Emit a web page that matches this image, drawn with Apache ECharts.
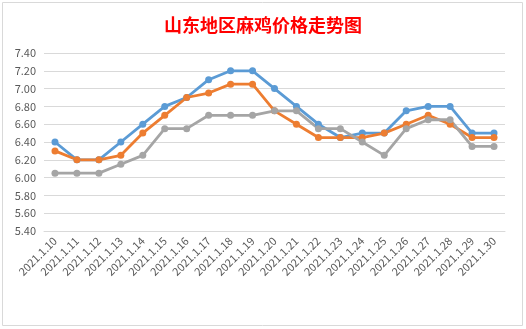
<!DOCTYPE html>
<html><head><meta charset="utf-8">
<script src="https://cdn.jsdelivr.net/npm/echarts@6/dist/echarts.min.js"></script>
<style>html,body{margin:0;padding:0;background:#fff}#c{width:526px;height:329px}</style>
</head><body><div id="c"></div>
<script>
const categories = ["2021.1.10","2021.1.11","2021.1.12","2021.1.13","2021.1.14","2021.1.15","2021.1.16","2021.1.17","2021.1.18","2021.1.19","2021.1.20","2021.1.21","2021.1.22","2021.1.23","2021.1.24","2021.1.25","2021.1.26","2021.1.27","2021.1.28","2021.1.29","2021.1.30"];
const ludong = [6.40,6.20,6.20,6.40,6.60,6.80,6.90,7.10,7.20,7.20,7.00,6.80,6.60,6.45,6.50,6.50,6.75,6.80,6.80,6.50,6.50];
const lunan  = [6.30,6.20,6.20,6.25,6.50,6.70,6.90,6.95,7.05,7.05,6.75,6.60,6.45,6.45,6.45,6.50,6.60,6.70,6.60,6.45,6.45];
const luzhong= [6.05,6.05,6.05,6.15,6.25,6.55,6.55,6.70,6.70,6.70,6.75,6.75,6.55,6.55,6.40,6.25,6.55,6.65,6.65,6.35,6.35];
const seriesNames = ["鲁东(大规格)","鲁南(大小规格)","鲁中(大小规格)"];
const colors = ["#5b9bd5","#ed7d31","#a5a5a5"];
const chart = echarts.init(document.getElementById('c'), null, {renderer:'canvas'});
const mk = (name, data, color) => ({
  name, type:'line', data, color,
  symbol:'circle', symbolSize:7,
  lineStyle:{width:2.8,color}, itemStyle:{color},
  emphasis:{disabled:true}
});
chart.setOption({
  animation:false,
  textStyle:{fontFamily:'"Noto Sans CJK SC", "Noto Sans", sans-serif'},
  graphic:[{type:'rect',shape:{x:2.5,y:2.5,width:520,height:323},style:{fill:'none',stroke:'#d9d9d9',lineWidth:1},silent:true}],
  title:{text:'山东地区麻鸡价格走势图',left:'center',top:11,
    textStyle:{color:'#ff0000',fontSize:18,fontWeight:'bold',fontFamily:'"Noto Sans CJK SC", sans-serif'}},
  legend:{bottom:12,left:'center',itemWidth:28,itemHeight:8,itemGap:6,
    data:seriesNames,
    textStyle:{color:'#595959',fontSize:12},
    icon:'path://M0,4 L28,4'},
  grid:{left:44,right:21,top:53,bottom:98,containLabel:false},
  xAxis:{type:'category',data:categories,boundaryGap:true,
    axisLine:{lineStyle:{color:'#d9d9d9'}},axisTick:{show:false},
    axisLabel:{rotate:45,color:'#595959',fontSize:11,interval:0,margin:8}},
  yAxis:{type:'value',min:5.4,max:7.4,interval:0.2,
    axisLine:{show:false},axisTick:{show:false},
    splitLine:{lineStyle:{color:'#d9d9d9'}},
    axisLabel:{color:'#595959',fontSize:11,margin:8,formatter:v=>v.toFixed(2)}},
  series:[mk(seriesNames[0],ludong,colors[0]),mk(seriesNames[1],lunan,colors[1]),mk(seriesNames[2],luzhong,colors[2])]
});
</script></body></html>
